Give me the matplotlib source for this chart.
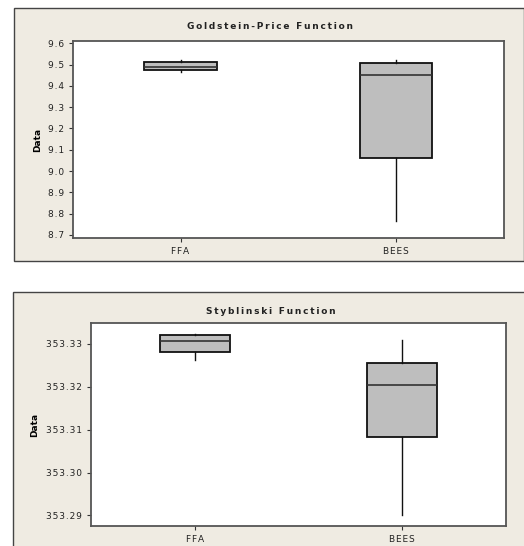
import matplotlib.pyplot as plt
from matplotlib.patches import Rectangle
from matplotlib.ticker import FuncFormatter

groups = ["FFA", "BEES"]

# Goldstein-Price results (box summary per algorithm)
gp_whislo = [9.467, 8.766]
gp_q1 = [9.473, 9.060]
gp_med = [9.487, 9.453]
gp_q3 = [9.514, 9.506]
gp_whishi = [9.520, 9.520]
gp_ticks = [8.7, 8.8, 8.9, 9.0, 9.1, 9.2, 9.3, 9.4, 9.5, 9.6]

# Styblinski results
st_whislo = [353.3262, 353.2900]
st_q1 = [353.3281, 353.3083]
st_med = [353.3306, 353.3204]
st_q3 = [353.3320, 353.3256]
st_whishi = [353.3323, 353.3309]
st_ticks = [353.29, 353.30, 353.31, 353.32, 353.33]

BG = "#efebe2"


def spaced(s, gap="\u2009"):
    return gap.join(s)


def boxes(ax, lo, q1, med, q3, hi):
    stats = []
    for i in range(len(groups)):
        stats.append(dict(whislo=lo[i], q1=q1[i], med=med[i], q3=q3[i],
                          whishi=hi[i], fliers=[], label=groups[i]))
    ax.bxp(stats, positions=[1, 2], widths=0.335, showcaps=False,
           patch_artist=True,
           boxprops=dict(facecolor="#bebebe", edgecolor="#111111", linewidth=1.3),
           medianprops=dict(color="#333333", linewidth=1.2),
           whiskerprops=dict(color="#111111", linewidth=1.0))


def style(ax, ticks, fmt, ylim, title, title_y, label_x):
    ax.set_xlim(0.5, 2.5)
    ax.set_ylim(*ylim)
    ax.set_yticks(ticks)
    ax.yaxis.set_major_formatter(
        FuncFormatter(lambda v, p: spaced(fmt % v, "\u200a")))
    ax.set_xticks([1, 2])
    ax.set_xticklabels([spaced(g, "\u200a") for g in groups])
    ax.tick_params(labelsize=6.5, length=3, width=0.8, colors="#333333",
                   labelcolor="#222222")
    for sp in ax.spines.values():
        sp.set_color("#555555")
        sp.set_linewidth(1.3)
    ax.set_facecolor("white")
    fig.text(0.516, title_y, spaced(title), ha="center", va="center",
             fontsize=6.5, fontweight="bold", color="#222222")
    ax.set_ylabel("Data", fontsize=6.5, fontweight="bold")
    ax.yaxis.set_label_coords(label_x, 0.5)


fig = plt.figure(figsize=(5.24, 5.46), dpi=100)
fig.patch.set_facecolor("white")

# beige panel frames behind the axes
fig.patches.append(Rectangle((14 / 524, 1 - 261 / 546), 510 / 524, 253 / 546,
                             transform=fig.transFigure, facecolor=BG,
                             edgecolor="#444444", linewidth=1.0, zorder=-5))
fig.patches.append(Rectangle((12.7 / 524, -0.01), 512 / 524, (546 - 292.3) / 546 + 0.01,
                             transform=fig.transFigure, facecolor=BG,
                             edgecolor="#444444", linewidth=1.0, zorder=-5))

ax1 = fig.add_axes([72.7 / 524, 1 - 238.3 / 546, 431.3 / 524, 197.6 / 546])
boxes(ax1, gp_whislo, gp_q1, gp_med, gp_q3, gp_whishi)
style(ax1, gp_ticks, "%.1f", (8.6845, 9.612), "Goldstein-Price Function",
      1 - 26.3 / 546, -0.072)

ax2 = fig.add_axes([91 / 524, 1 - 525.7 / 546, 415 / 524, 202.4 / 546])
boxes(ax2, st_whislo, st_q1, st_med, st_q3, st_whishi)
style(ax2, st_ticks, "%.2f", (353.2876, 353.3348), "Styblinski Function",
      1 - 311.7 / 546, -0.124)

fig.savefig("out.png", dpi=100, facecolor=fig.get_facecolor())
